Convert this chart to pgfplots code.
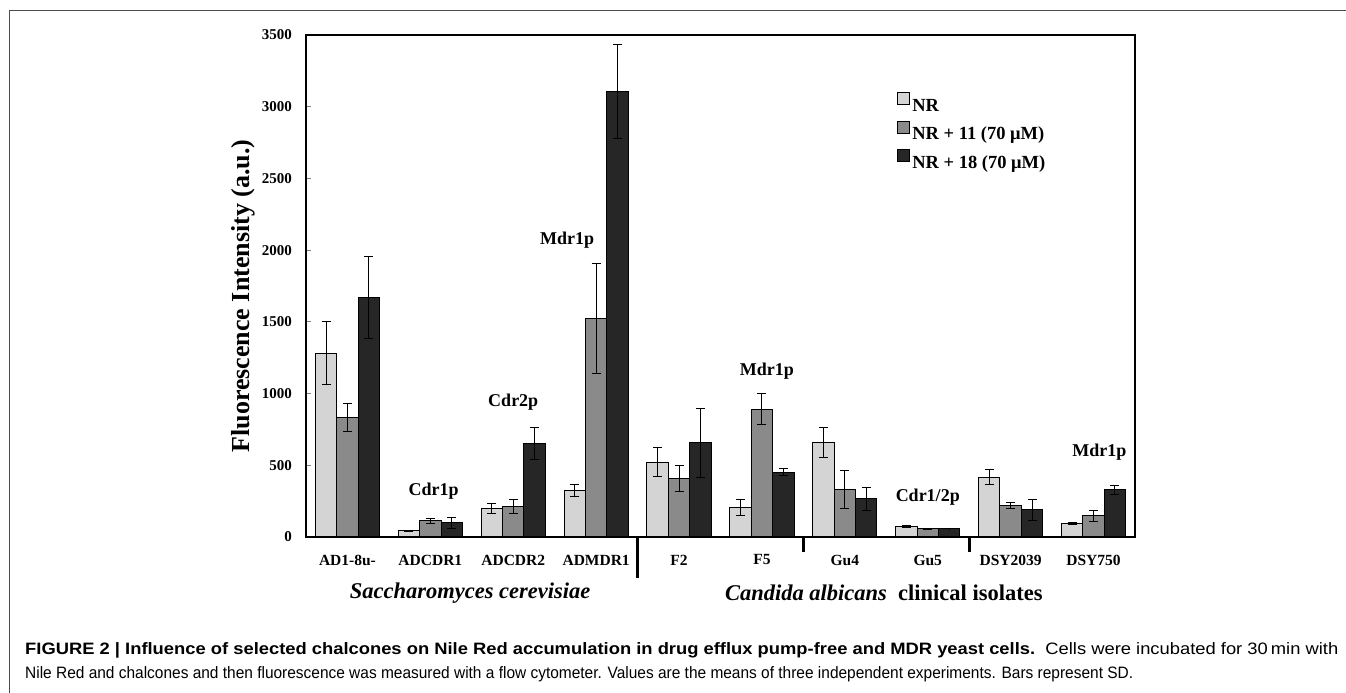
\documentclass[border=0pt]{standalone}
\usepackage{pgfplots}
\pgfplotsset{compat=1.18}
\usepackage{pgfplotstable}
\usepackage{graphicx}
\usepackage{fontspec}
\setmainfont{Liberation Serif}
\newfontfamily\capfont{Liberation Sans}

\definecolor{barlight}{HTML}{D4D4D4}
\definecolor{barmid}{HTML}{8A8A8A}
\definecolor{bardark}{HTML}{262626}

% columns: group, NR, sd, NR+11, sd, NR+18, sd
\pgfplotstableread{
x a ea b eb c ec
0 1280 220 834 95 1670 285
1 42 5 112 17 98 36
2 198 33 214 47 651 112
3 323 40 1525 385 3105 330
4 521 100 409 90 657 240
5 207 55 892 110 453 25
6 657 105 332 135 265 82
7 74 8 58 3 58 2
8 416 52 221 23 190 73
9 95 8 149 38 328 31
}\data

\newcommand\annfont{\fontsize{18}{21}\selectfont\bfseries}

\begin{document}
\begin{tikzpicture}[x=1pt,y=1pt]
\useasboundingbox (0,0) rectangle (1346,693);
\draw[black!70, line width=1.3pt] (9.3,0) -- (9.3,682.3) -- (1346,682.3);

\begin{axis}[
    at={(306pt,156pt)}, anchor=south west,
    scale only axis, width=829pt, height=502pt,
    xmin=-0.5, xmax=9.5, ymin=0, ymax=3500,
    ybar=0pt, bar width=21.4pt,
    axis line style={line width=1.6pt},
    clip=false,
    xtick={0,...,9},
    xticklabels={AD1-8u-,ADCDR1,ADCDR2,ADMDR1,F2,F5,Gu4,Gu5,DSY2039,DSY750},
    xtick style={draw=none},
    xticklabel style={font=\fontsize{15.5}{18}\selectfont\bfseries, anchor=center, inner sep=0pt, yshift=-23pt},
    ytick={0,500,...,3500},
    ytick pos=left, tick align=inside,
    major tick length=5pt,
    ytick style={line width=1pt},
    yticklabel style={font=\fontsize{15}{17}\selectfont\bfseries, inner sep=0pt, xshift=-14pt},
    /pgf/number format/assume math mode=true,
    scaled y ticks=false,
    yticklabel={\pgfmathprintnumber[fixed,1000 sep={}]{\tick}},
    ylabel={Fluorescence Intensity (a.u.)},
    ylabel style={at={(axis description cs:-0.076,0.48)}, anchor=center,
        font=\fontsize{26}{29}\selectfont\bfseries},
    legend style={draw=none, fill=none, at={(0.713,0.886)}, anchor=north west,
        font=\fontsize{18.5}{21}\selectfont\bfseries, row sep=6pt, inner sep=0pt,
        nodes={inner sep=2pt}},
    legend cell align=left,
    legend image code/.code={\draw[#1, line width=1pt, draw=black] (0pt,1pt) rectangle (12pt,13pt);},
    every axis plot/.append style={draw=black, line width=1pt},
    error bars/y dir=both, error bars/y explicit,
    error bars/error bar style={line width=1pt, black},
    error bars/error mark options={black, line width=1pt, mark size=4.5pt, rotate=90},
]
\addplot[fill=barlight] table[x=x, y=a, y error=ea] {\data};
\addlegendentry{NR}
\addplot[fill=barmid] table[x=x, y=b, y error=eb] {\data};
\addlegendentry{NR + 11 (70 μM)}
\addplot[fill=bardark] table[x=x, y=c, y error=ec] {\data};
\addlegendentry{NR + 18 (70 μM)}

% separators below the axis
\draw[line width=3pt] (axis cs:3.5,0) -- ++(0pt,-41pt);
\draw[line width=3pt] (axis cs:5.5,0) -- ++(0pt,-15pt);
\draw[line width=3pt] (axis cs:7.5,0) -- ++(0pt,-15pt);

% transporter annotations
\node[font=\annfont] at (axis cs:1.04,321) {Cdr1p};
\node[font=\annfont] at (axis cs:2,939) {Cdr2p};
\node[font=\annfont] at (axis cs:2.65,2070) {Mdr1p};
\node[font=\annfont] at (axis cs:5.06,1157) {Mdr1p};
\node[font=\annfont] at (axis cs:7.0,277) {Cdr1/2p};
\node[font=\annfont] at (axis cs:9.07,593) {Mdr1p};

% group labels
\node[font=\fontsize{22.5}{26}\selectfont\bfseries\itshape] at ([yshift=-56pt]axis cs:1.48,0) {Saccharomyces cerevisiae};
\node[font=\fontsize{22.5}{26}\selectfont\bfseries] at ([yshift=-56pt]axis cs:6.47,0) {\textit{Candida albicans}\ \ clinical isolates};
\end{axis}

% caption
\node[anchor=base west, inner sep=0pt] at (25,38) {\resizebox{1313pt}{\height}{\capfont\fontsize{16.5}{19}\selectfont\textbf{FIGURE 2 | Influence of selected chalcones on Nile Red accumulation in drug efflux pump-free and MDR yeast cells.}\ \ Cells were incubated for 30\,min with}};
\node[anchor=base west, inner sep=0pt] at (25,14) {\resizebox{1108pt}{\height}{\capfont\fontsize{16.5}{19}\selectfont Nile Red and chalcones and then fluorescence was measured with a flow cytometer. Values are the means of three independent experiments. Bars represent SD.}};
\end{tikzpicture}
\end{document}
